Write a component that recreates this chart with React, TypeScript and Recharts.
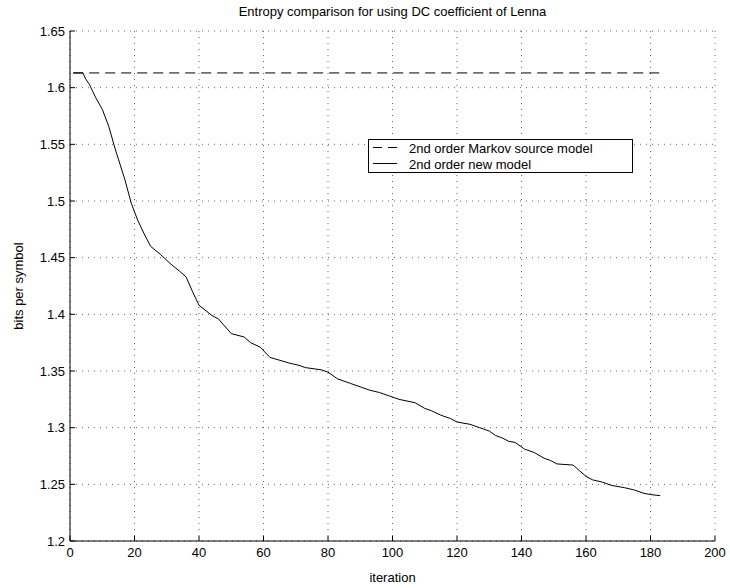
import React from 'react';
import { LineChart, Line, XAxis, YAxis, CartesianGrid, Legend } from 'recharts';

const chartTitle = 'Entropy comparison for using DC coefficient of Lenna';
const xLabel = 'iteration';
const yLabel = 'bits per symbol';
const seriesNames = ['2nd order Markov source model', '2nd order new model'];

const iterations = [
  1, 4, 5, 6, 7, 8, 10, 12, 14, 15, 17, 19, 21, 23, 25, 28, 31, 34, 36, 38, 40,
  44, 46, 50, 54, 56, 59, 62, 68, 71, 73, 78, 80, 83, 87, 90, 93, 96, 99, 102,
  107, 110, 112, 115, 118, 120, 124, 127, 130, 132, 134, 136, 138, 141, 144, 147,
  149, 151, 156, 158, 160, 162, 165, 168, 172, 175, 178, 180, 183,
];
const newModel = [
  1.613, 1.613, 1.607, 1.603, 1.597, 1.591, 1.581, 1.566, 1.546, 1.537, 1.519,
  1.498, 1.483, 1.471, 1.460, 1.453, 1.445, 1.438, 1.433, 1.420, 1.408,
  1.399, 1.396, 1.383, 1.380, 1.375, 1.371, 1.362, 1.357, 1.355, 1.353, 1.351,
  1.349, 1.343, 1.339, 1.336, 1.333, 1.331, 1.328, 1.325,
  1.322, 1.317, 1.315, 1.311, 1.308, 1.305, 1.303, 1.300, 1.297, 1.293, 1.291,
  1.288, 1.287, 1.281, 1.278, 1.273,
  1.271, 1.268, 1.267, 1.262, 1.257, 1.254, 1.252, 1.249, 1.247, 1.245, 1.242,
  1.241, 1.240,
];
const markovIterations = [1, 183];
const markovValues = [1.613, 1.613];

const xTicks = [0, 20, 40, 60, 80, 100, 120, 140, 160, 180, 200];
const yTicks = [1.2, 1.25, 1.3, 1.35, 1.4, 1.45, 1.5, 1.55, 1.6, 1.65];

const newData = iterations.map((it, i) => ({ it, v: newModel[i] }));
const markovData = markovIterations.map((it, i) => ({ it, m: markovValues[i] }));

const FONT = '"Liberation Sans", Arial, Helvetica, sans-serif';
const FS = 13;

const fmtY = (v: number) => String(Number(v.toFixed(2)));

const LegendBox = () => (
  <div
    style={{
      width: 265,
      height: 34,
      border: '1px solid #000',
      background: '#fff',
      boxSizing: 'border-box',
      position: 'relative',
    }}
  >
    <svg width={263} height={32} style={{ position: 'absolute', left: 0, top: 0 }}>
      <line x1={4} x2={28} y1={7.5} y2={7.5} stroke="#000" strokeWidth={1} strokeDasharray="9 6" />
      <text x={40} y={8} fontFamily={FONT} fontSize={FS} dominantBaseline="central" fill="#000">
        {seriesNames[0]}
      </text>
      <line x1={4} x2={28} y1={23.5} y2={23.5} stroke="#000" strokeWidth={1} />
      <text x={40} y={24} fontFamily={FONT} fontSize={FS} dominantBaseline="central" fill="#000">
        {seriesNames[1]}
      </text>
    </svg>
  </div>
);

export default function App() {
  return (
    <div style={{ position: 'absolute', left: 0, top: 0, width: 730, height: 588, background: '#fff' }}>
      <div
        style={{
          position: 'absolute',
          left: 70,
          width: 645,
          top: 4,
          textAlign: 'center',
          fontFamily: FONT,
          fontSize: FS,
          color: '#000',
        }}
      >
        {chartTitle}
      </div>
      <LineChart
        width={730}
        height={588}
        margin={{ top: 31, right: 15, bottom: 0, left: 0 }}
        style={{ fontFamily: FONT }}
      >
        <CartesianGrid stroke="#666" strokeDasharray="1 5" vertical horizontal />
        <XAxis
          xAxisId={0}
          dataKey="it"
          type="number"
          domain={[0, 200]}
          ticks={xTicks}
          allowDataOverflow
          height={47}
          tickSize={-5}
          tickMargin={12}
          stroke="#000"
          tick={{ fill: '#000', fontSize: FS, fontFamily: FONT }}
          label={{ value: xLabel, position: 'insideBottom', offset: 6, fill: '#000', fontSize: FS, fontFamily: FONT }}
        />
        <XAxis
          xAxisId="top"
          orientation="top"
          dataKey="it"
          type="number"
          domain={[0, 200]}
          ticks={xTicks}
          allowDataOverflow
          height={0}
          tickSize={-5}
          stroke="#000"
          tickFormatter={() => ''}
        />
        <YAxis
          yAxisId={0}
          type="number"
          domain={[1.2, 1.65]}
          ticks={yTicks}
          allowDataOverflow
          width={70}
          tickSize={-5}
          tickMargin={10}
          stroke="#000"
          tickFormatter={fmtY}
          tick={{ fill: '#000', fontSize: FS, fontFamily: FONT }}
          label={{
            value: yLabel,
            angle: -90,
            position: 'insideLeft',
            offset: 18,
            fill: '#000',
            fontSize: FS,
            fontFamily: FONT,
            style: { textAnchor: 'middle' },
          }}
        />
        <YAxis
          yAxisId="right"
          orientation="right"
          type="number"
          domain={[1.2, 1.65]}
          ticks={yTicks}
          allowDataOverflow
          width={0}
          tickSize={-5}
          stroke="#000"
          tickFormatter={() => ''}
        />
        <Legend
          layout="vertical"
          align="center"
          verticalAlign="middle"
          wrapperStyle={{ left: 368, top: 139, width: 265, height: 34 }}
          content={() => <LegendBox />}
        />
        <Line
          data={markovData}
          dataKey="m"
          name={seriesNames[0]}
          type="linear"
          stroke="#000"
          strokeWidth={1}
          strokeDasharray="10 6"
          dot={false}
          isAnimationActive={false}
        />
        <Line
          data={newData}
          dataKey="v"
          name={seriesNames[1]}
          type="linear"
          stroke="#000"
          strokeWidth={1}
          dot={false}
          isAnimationActive={false}
        />
      </LineChart>
    </div>
  );
}
